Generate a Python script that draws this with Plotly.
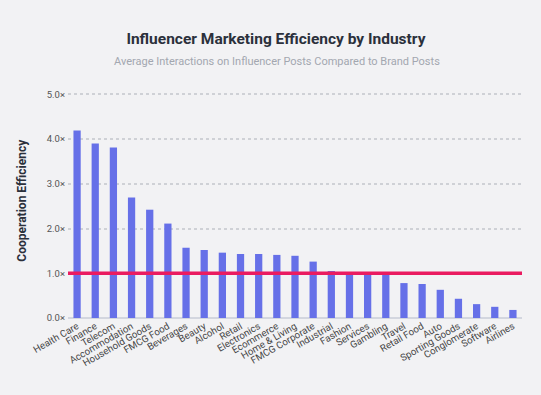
import plotly.graph_objects as go

industries = ["Health Care", "Finance", "Telecom", "Accommodation", "Household Goods",
              "FMCG Food", "Beverages", "Beauty", "Alcohol", "Retail", "Electronics",
              "Ecommerce", "Home & Living", "FMCG Corporate", "Industrial", "Fashion",
              "Services", "Gambling", "Travel", "Retail Food", "Auto", "Sporting Goods",
              "Conglomerate", "Software", "Airlines"]
efficiency = [4.19, 3.90, 3.81, 2.69, 2.42, 2.11, 1.57, 1.52, 1.46, 1.43, 1.43,
              1.41, 1.39, 1.26, 1.05, 1.0, 0.99, 0.98, 0.78, 0.76, 0.63, 0.43,
              0.31, 0.25, 0.18]
baseline = 1.0
y_ticks = [0, 1, 2, 3, 4, 5]
y_tick_labels = ["0.0×", "1.0×", "2.0×", "3.0×", "4.0×", "5.0×"]

fig = go.Figure()
fig.add_trace(go.Bar(x=industries, y=efficiency, marker_color="#6670e8",
                     marker_line_width=0, width=0.4))
fig.add_shape(type="line", xref="paper", x0=0, x1=1, yref="y", y0=baseline, y1=baseline,
              line=dict(color="#ea1b60", width=3.5))
fig.add_annotation(text="Average Interactions on Influencer Posts Compared to Brand Posts",
                   xref="paper", yref="paper", x=0.46, y=1.133, xanchor="center",
                   yanchor="middle", showarrow=False,
                   font=dict(size=11, color="#a3a7b0", family="Roboto, sans-serif"))
fig.add_annotation(text="<b>Cooperation Efficiency</b>", textangle=-90,
                   xref="paper", yref="paper", x=-0.101, y=0.52, xanchor="center",
                   yanchor="middle", showarrow=False,
                   font=dict(size=12, color="#2b303b", family="Roboto, sans-serif"))

fig.update_layout(
    width=541, height=395,
    paper_bgcolor="#f2f2f4", plot_bgcolor="#f2f2f4",
    margin=dict(l=68, r=19, t=92, b=77),
    showlegend=False,
    font=dict(family="Roboto, sans-serif", color="#444"),
    title=dict(
        text="<b>Influencer Marketing Efficiency by Industry</b>",
        x=0.51, xanchor="center", yref="container", y=1 - 39 / 395, yanchor="middle",
        font=dict(size=15.5, color="#2b303b", family="Roboto, sans-serif"),
    ),
    xaxis=dict(tickangle=-30, tickfont=dict(size=9.7, color="#444"), showgrid=False,
               showline=False, ticks="", range=[-0.5, len(industries) - 0.5]),
    yaxis=dict(range=[0, 5.05], tickvals=y_ticks, ticktext=y_tick_labels,
               tickfont=dict(size=9.5, color="#555"), showgrid=True, gridcolor="#cfd1d6",
               griddash="dot", gridwidth=2, zeroline=True, zerolinecolor="#d3d6df",
               zerolinewidth=2, showline=False, ticks="", ticklabelstandoff=2),
)
fig.write_html("out.html", config={"displayModeBar": False},
               post_script="document.body.style.margin='0';document.body.style.background='#f2f2f4';")
